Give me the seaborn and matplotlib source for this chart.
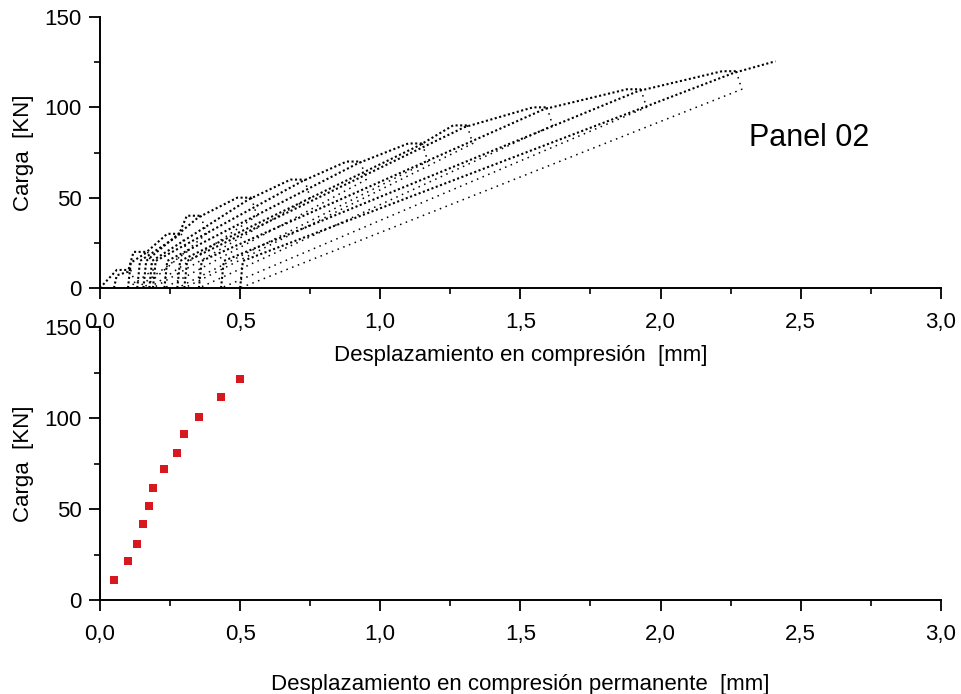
import numpy as np
import pandas as pd
import seaborn as sns
import matplotlib.pyplot as plt
from matplotlib.ticker import MultipleLocator, FuncFormatter

## Data
# peaks of each load cycle (top panel)
peak_load = [10, 20, 30, 40, 50, 60, 70, 80, 90, 100, 110, 120]
peak_disp = [0.06, 0.12, 0.24, 0.31, 0.49, 0.68, 0.88, 1.10, 1.26, 1.545, 1.88, 2.22]
# last loading to failure
final_load = 125.5
final_disp = 2.41
# permanent displacement after each cycle (bottom panel)
perm_disp = [0.05, 0.10, 0.133, 0.155, 0.176, 0.189, 0.23, 0.276, 0.301, 0.353, 0.432, 0.50]
perm_load = [11, 21.3, 30.8, 41.6, 51.6, 61.7, 71.8, 80.8, 91, 100.4, 111.5, 121.3]

## Build the cycle paths from the arrays above
load_rows, unload_rows = [], []
for i in range(len(peak_load)):
    if i == 0:
        pts = [(0.0, 0.0)]
    else:
        r0, p0, d0 = perm_disp[i - 1], peak_load[i - 1], peak_disp[i - 1]
        pts = [(r0, 0.0), (r0 + 0.01, min(15, 0.7 * p0)), (d0 + 0.04, p0 - 1)]
    pts += [(peak_disp[i], peak_load[i]), (peak_disp[i] + 0.05, peak_load[i])]
    for x, y in pts:
        load_rows.append((i, x, y))
    for x, y in [(peak_disp[i] + 0.05, peak_load[i]),
                 (peak_disp[i] + 0.07, peak_load[i] - 10),
                 (perm_disp[i], 0.0)]:
        unload_rows.append((i, x, y))
n = len(peak_load)
for x, y in [(perm_disp[-1], 0.0), (perm_disp[-1] + 0.01, 15),
             (peak_disp[-1] + 0.04, peak_load[-1] - 1), (final_disp, final_load)]:
    load_rows.append((n, x, y))

load_df = pd.DataFrame(load_rows, columns=['cycle', 'disp', 'load'])
unload_df = pd.DataFrame(unload_rows, columns=['cycle', 'disp', 'load'])
perm_df = pd.DataFrame({'disp': perm_disp, 'load': perm_load})

## Style
sns.set_style('ticks')
plt.rcParams['font.family'] = ['Liberation Sans', 'DejaVu Sans']
plt.rcParams['text.color'] = 'k'
plt.rcParams['axes.labelcolor'] = 'k'

fig = plt.figure(figsize=(9.61, 6.94), dpi=100)
ax1 = fig.add_axes([0.104, 0.585, 0.875, 0.3905])
ax2 = fig.add_axes([0.104, 0.1354, 0.875, 0.3934])

# top panel: load cycles as dotted traces
sns.lineplot(data=load_df, x='disp', y='load', units='cycle', estimator=None,
             sort=False, color='k', lw=1.5, linestyle=(0, (1, 1.2)), ax=ax1)
sns.lineplot(data=unload_df, x='disp', y='load', units='cycle', estimator=None,
             sort=False, color='k', lw=1.1, linestyle=(0, (1, 3)), ax=ax1)
ax1.text(0.843, 0.555, 'Panel 02', transform=ax1.transAxes, fontsize=22, ha='center', va='center')

# bottom panel: permanent displacement
sns.scatterplot(data=perm_df, x='disp', y='load', marker='s', s=34, color='#d7191f',
                edgecolor='none', ax=ax2)

comma = FuncFormatter(lambda v, p: f'{v:.1f}'.replace('.', ','))
for ax, xl, pad in [(ax1, 'Desplazamiento en compresión  [mm]', 9),
                    (ax2, 'Desplazamiento en compresión permanente  [mm]', 21)]:
    ax.set_xlim(0, 3.0)
    ax.set_ylim(0, 150)
    ax.xaxis.set_major_locator(MultipleLocator(0.5))
    ax.xaxis.set_minor_locator(MultipleLocator(0.25))
    ax.yaxis.set_major_locator(MultipleLocator(50))
    ax.yaxis.set_minor_locator(MultipleLocator(25))
    ax.xaxis.set_major_formatter(comma)
    ax.tick_params(which='major', length=8, width=1.3, direction='out', labelsize=16,
                   colors='k', pad=5)
    ax.tick_params(which='minor', length=4, width=1.2, direction='out', colors='k')
    ax.tick_params(axis='x', pad=9)
    ax.set_xlabel(xl, fontsize=16, labelpad=pad)
    ax.set_ylabel('Carga  [KN]', fontsize=16, labelpad=8)
    ax.spines['top'].set_visible(False)
    ax.spines['right'].set_visible(False)
    for s in ['left', 'bottom']:
        ax.spines[s].set_linewidth(1.4)
        ax.spines[s].set_color('k')
    ax.patch.set_alpha(0)

fig.savefig('out.png', dpi=100)
